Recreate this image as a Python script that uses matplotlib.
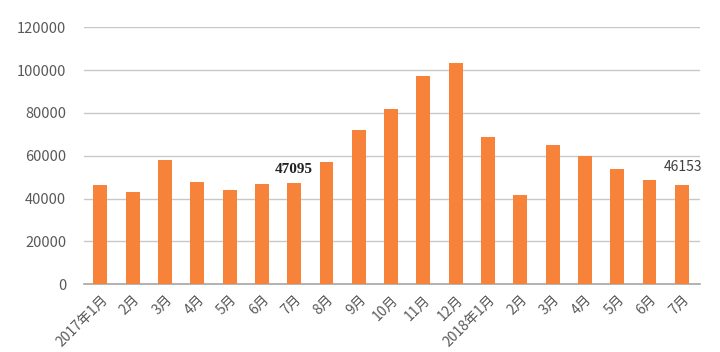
import matplotlib
matplotlib.use('Agg')
import matplotlib.pyplot as plt

plt.rcParams['font.family'] = ['Noto Sans CJK SC', 'DejaVu Sans']

# Monthly values, Jan 2017 - Jul 2018
months = ['2017年1月', '2月', '3月', '4月', '5月', '6月', '7月', '8月', '9月',
          '10月', '11月', '12月', '2018年1月', '2月', '3月', '4月', '5月', '6月', '7月']
values = [46300, 42900, 58000, 47700, 44000, 46800, 47095, 57200, 72000,
          82000, 97200, 103200, 68600, 41600, 65200, 59900, 53700, 48800, 46153]
yticks = [0, 20000, 40000, 60000, 80000, 100000, 120000]

fig = plt.figure(figsize=(7.2, 3.52), dpi=100)
ax = fig.add_axes([0.117, 0.193, 0.855, 0.729])

x = list(range(len(values)))
ax.bar(x, values, width=0.43, color='#F7833A', zorder=3)

ax.set_ylim(0, 120000)
ax.set_xlim(-0.5, 18.56)
ax.set_yticks(yticks)
ax.set_yticklabels([str(v) for v in yticks], color='#595959', fontsize=10.5)
ax.yaxis.grid(True, color='#C8C8C8', linewidth=1, zorder=0)
ax.set_xticks(x)
ax.set_xticklabels(months, rotation=45, ha='right', rotation_mode='anchor',
                   color='#595959', fontsize=10)
ax.tick_params(length=0, axis='x', pad=6)
ax.tick_params(length=0, axis='y', pad=13)

for s in ['top', 'right', 'left']:
    ax.spines[s].set_visible(False)
ax.spines['bottom'].set_color('#A6A6A6')
ax.spines['bottom'].set_linewidth(1.2)

# value labels
ax.annotate(str(values[6]), (6, values[6]), xytext=(0, 5), textcoords='offset points',
            ha='center', va='bottom', fontsize=11, family='Liberation Serif',
            fontweight='bold', color='#222222')
ax.annotate(str(values[18]), (18, values[18]), xytext=(1, 8), textcoords='offset points',
            ha='center', va='bottom', fontsize=10, color='#404040')

plt.savefig('out.png', dpi=100)
plt.close()
